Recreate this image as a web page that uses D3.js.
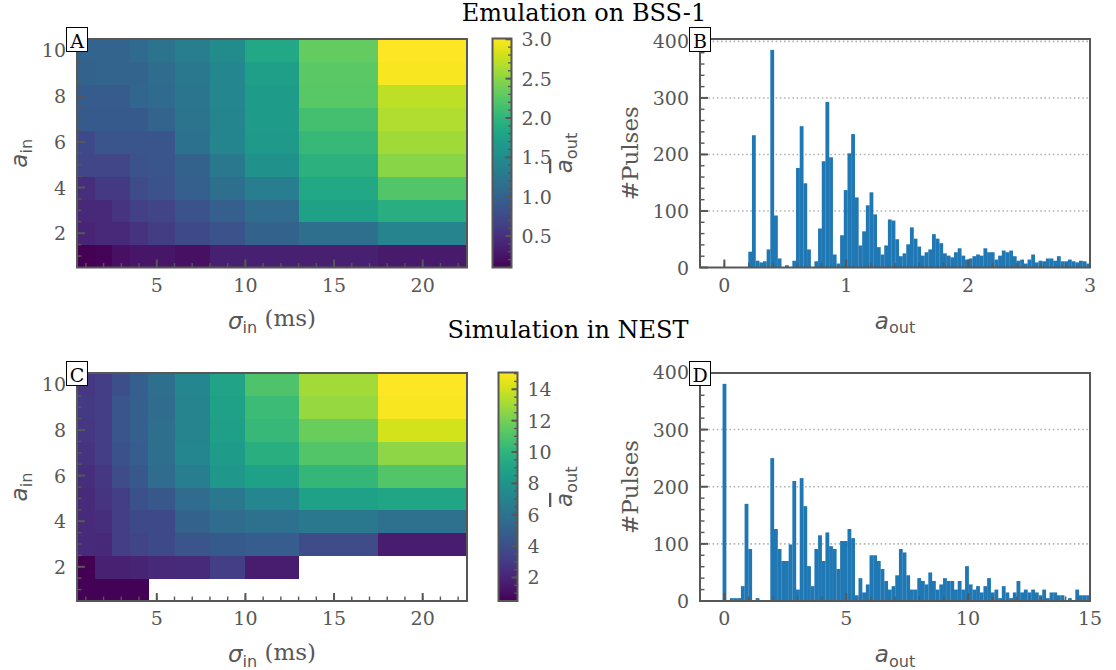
<!DOCTYPE html>
<html>
<head>
<meta charset="utf-8">
<script src="https://cdn.jsdelivr.net/npm/d3@7"></script>
<style>
  body { margin: 0; background: #fff; }
  svg text { font-family: "DejaVu Serif", serif; }
</style>
</head>
<body>
<svg id="fig" width="1116" height="670"></svg>
<script>
// ---- data -------------------------------------------------------------
// Input pulse width sigma_in (ms) and input amplitude a_in of the grid.
const sigmaIn = [1, 2, 3, 4, 5, 7, 9, 11, 15, 20];
const aIn = [1, 2, 3, 4, 5, 6, 7, 8, 9, 10];

// Mean output amplitude, one row per a_in (1..10), one column per sigma_in.
const aOutBSS = [
  [0.10, 0.13, 0.22, 0.27, 0.27, 0.22, 0.36, 0.36, 0.36, 0.30],
  [0.39, 0.42, 0.42, 0.51, 0.62, 0.74, 0.83, 1.00, 1.15, 1.41],
  [0.42, 0.42, 0.54, 0.65, 0.68, 0.83, 0.97, 1.12, 1.76, 1.93],
  [0.48, 0.59, 0.59, 0.77, 0.83, 0.97, 1.15, 1.32, 1.85, 2.22],
  [0.71, 0.71, 0.71, 0.83, 0.86, 1.00, 1.26, 1.56, 1.96, 2.49],
  [0.74, 0.86, 0.86, 0.86, 0.86, 1.18, 1.42, 1.67, 2.05, 2.60],
  [0.91, 0.91, 0.91, 0.91, 1.03, 1.21, 1.42, 1.70, 2.14, 2.66],
  [0.94, 0.94, 0.94, 1.06, 1.09, 1.23, 1.44, 1.70, 2.25, 2.72],
  [1.00, 1.03, 1.03, 1.03, 1.12, 1.26, 1.44, 1.73, 2.27, 2.98],
  [1.03, 1.03, 1.03, 1.09, 1.21, 1.32, 1.50, 1.85, 2.31, 3.01]
];
// null = no output pulse for that input
const aOutNEST = [
  [0.60, 0.60, 0.60, 0.60, null, null, null, null, null, null],
  [0.50, 1.81, 1.81, 1.96, 2.10, 2.25, 3.12, 1.67, null, null],
  [2.25, 2.10, 3.12, 3.41, 3.71, 4.29, 4.58, 4.73, 3.85, 1.67],
  [2.25, 2.39, 3.12, 3.71, 3.71, 5.02, 5.60, 5.89, 6.33, 5.89],
  [2.25, 2.69, 3.12, 4.14, 4.43, 5.60, 6.33, 7.20, 8.80, 9.10],
  [2.39, 2.83, 3.85, 4.43, 5.60, 6.62, 8.22, 8.80, 10.12, 11.14],
  [2.69, 3.12, 4.14, 4.73, 5.75, 7.20, 8.51, 9.68, 11.14, 12.59],
  [2.83, 3.12, 4.29, 4.87, 5.75, 7.06, 8.66, 10.26, 11.72, 14.05],
  [2.98, 3.12, 4.29, 4.87, 5.60, 7.06, 8.80, 10.41, 12.74, 14.95],
  [2.83, 3.12, 4.00, 4.87, 5.75, 7.20, 8.95, 10.99, 13.03, 15.07]
];

// Histograms of single-pulse output amplitudes: 100 equal bins each.
const binsBSS = { lo: -0.015, hi: 3.0 };
const pulsesBSS = [
  0, 0, 0, 0, 0, 0, 0, 28, 234, 12,
  9, 11, 32, 385, 92, 16, 0, 4, 0, 12,
  176, 250, 149, 32, 0, 11, 69, 188, 293, 195,
  23, 7, 57, 137, 202, 236, 124, 39, 64, 110,
  133, 94, 36, 23, 39, 85, 83, 50, 20, 25,
  41, 71, 51, 37, 21, 27, 32, 59, 51, 43,
  25, 21, 18, 27, 34, 21, 14, 16, 20, 23,
  21, 34, 27, 27, 14, 21, 30, 27, 30, 20,
  12, 14, 7, 14, 23, 9, 12, 11, 16, 16,
  12, 20, 11, 11, 14, 11, 9, 12, 11, 7
];
const binsNEST = { lo: -0.075, hi: 15.0 };
const pulsesNEST = [
  380, 0, 5, 5, 5, 26, 170, 91, 0, 5,
  0, 0, 0, 250, 126, 91, 70, 70, 99, 210,
  20, 215, 166, 61, 26, 91, 115, 70, 120, 96,
  91, 56, 105, 105, 126, 110, 10, 40, 15, 29,
  80, 80, 70, 56, 35, 20, 26, 45, 91, 85,
  45, 20, 20, 40, 35, 29, 50, 35, 20, 29,
  40, 35, 35, 20, 35, 20, 61, 29, 20, 26,
  15, 26, 40, 15, 20, 5, 26, 15, 5, 15,
  35, 15, 20, 15, 20, 15, 10, 20, 5, 15,
  15, 10, 10, 0, 5, 0, 20, 10, 10, 10
];

// Tick values
const sigmaTicks = [5, 10, 15, 20];
const aInTicks = [2, 4, 6, 8, 10];
const cbTicksBSS = [0.5, 1.0, 1.5, 2.0, 2.5, 3.0];
const cbTicksNEST = [2, 4, 6, 8, 10, 12, 14];
const pulseTicks = [0, 100, 200, 300, 400];
const aOutTicksBSS = [0, 1, 2, 3];
const aOutTicksNEST = [0, 5, 10, 15];

// ---- drawing ----------------------------------------------------------
const svg = d3.select("#fig");
const defs = svg.append("defs");
const AX = "#575757";      // spines and ticks
const LBL = "#575757";     // tick labels
const TICK_FS = 19;
const LABEL_FS = 23;

function range(a, b, step) {
  const out = [];
  const n = Math.round((b - a) / step);
  for (let i = 0; i <= n; i++) out.push(+(a + i * step).toFixed(6));
  return out;
}

// cell edges half-way between grid points (nearest shading)
function edges(v) {
  const e = [v[0] - (v[1] - v[0]) / 2];
  for (let i = 0; i < v.length - 1; i++) e.push((v[i] + v[i + 1]) / 2);
  e.push(v[v.length - 1] + (v[v.length - 1] - v[v.length - 2]) / 2);
  return e;
}

function tickMarks(g, axis, scale, values, len, width, pos) {
  values.forEach(v => {
    const p = scale(v);
    if (axis === "x") {
      g.append("line").attr("x1", p).attr("x2", p)
        .attr("y1", pos).attr("y2", pos - len)
        .attr("stroke", AX).attr("stroke-width", width);
    } else if (axis === "y") {
      g.append("line").attr("y1", p).attr("y2", p)
        .attr("x1", pos).attr("x2", pos + len)
        .attr("stroke", AX).attr("stroke-width", width);
    } else { // colorbar: ticks inward from the right edge
      g.append("line").attr("y1", p).attr("y2", p)
        .attr("x1", pos).attr("x2", pos - len)
        .attr("stroke", AX).attr("stroke-width", width);
    }
  });
}

function xLabels(g, scale, values, y, fmt) {
  g.selectAll(null).data(values).enter().append("text")
    .attr("x", d => scale(d)).attr("y", y)
    .attr("text-anchor", "middle").attr("dominant-baseline", "hanging")
    .attr("font-size", TICK_FS).attr("fill", LBL)
    .text(fmt || (d => d));
}
function yLabels(g, scale, values, x, anchor, fmt) {
  g.selectAll(null).data(values).enter().append("text")
    .attr("x", x).attr("y", d => scale(d))
    .attr("text-anchor", anchor).attr("dominant-baseline", "central")
    .attr("font-size", TICK_FS).attr("fill", LBL)
    .text(fmt || (d => d));
}

function panelTag(g, x, y, letter) {
  g.append("rect").attr("x", x - 10.5).attr("y", y - 12.5)
    .attr("width", 21).attr("height", 24)
    .attr("fill", "#fff").attr("stroke", "#000").attr("stroke-width", 1);
  g.append("text").attr("x", x).attr("y", y + 0.5)
    .attr("text-anchor", "middle").attr("dominant-baseline", "central")
    .attr("font-size", 19).attr("fill", "#000").text(letter);
}

function frame(g, x0, y0, x1, y1) {
  g.append("rect").attr("x", x0).attr("y", y0)
    .attr("width", x1 - x0).attr("height", y1 - y0)
    .attr("fill", "none").attr("stroke", AX).attr("stroke-width", 2);
}

// label helpers: italic symbol with upright subscript
function symLabel(t, sym, sub, over) {
  const s = t.append("tspan").attr("font-family", "DejaVu Sans")
    .attr("font-style", "italic").text(sym);
  if (over) s.attr("text-decoration", "overline");
  t.append("tspan").attr("font-family", "DejaVu Sans")
    .attr("font-size", "70%").attr("dy", "0.3em").text(sub);
  return t;
}

function heatmap(box, values, cbBox, cbTicks, cbMinor, tag) {
  const g = svg.append("g");
  const x = d3.scaleLinear([0.5, 22.5], [box.x0, box.x1]);
  const y = d3.scaleLinear([0.5, 10.5], [box.y1, box.y0]);
  const flat = values.flat().filter(v => v !== null);
  const ext = d3.extent(flat);
  const color = d3.scaleSequential(d3.interpolateViridis).domain(ext);
  const xe = edges(sigmaIn), ye = edges(aIn);

  const cells = [];
  values.forEach((row, i) => row.forEach((v, j) => {
    if (v !== null) cells.push({ i, j, v });
  }));
  g.selectAll(null).data(cells).enter().append("rect")
    .attr("shape-rendering", "crispEdges")
    .attr("x", d => x(xe[d.j]))
    .attr("y", d => y(ye[d.i + 1]))
    .attr("width", d => x(xe[d.j + 1]) - x(xe[d.j]) + 0.6)
    .attr("height", d => y(ye[d.i]) - y(ye[d.i + 1]) + 0.6)
    .attr("fill", d => color(d.v));

  tickMarks(g, "x", x, range(1, 22, 1), 4.5, 1.4, box.y1);
  tickMarks(g, "x", x, sigmaTicks, 8, 2, box.y1);
  tickMarks(g, "y", y, range(1, 10.5, 0.5), 4.5, 1.4, box.x0);
  tickMarks(g, "y", y, aInTicks, 8, 2, box.x0);
  frame(g, box.x0, box.y0, box.x1, box.y1);
  xLabels(g, x, sigmaTicks, box.y1 + 10);
  yLabels(g, y, aInTicks, box.x0 - 11, "end");

  // colorbar
  const gid = "grad" + tag;
  const grad = defs.append("linearGradient").attr("id", gid)
    .attr("x1", 0).attr("y1", 1).attr("x2", 0).attr("y2", 0);
  d3.range(0, 1.0001, 0.02).forEach(t =>
    grad.append("stop").attr("offset", t).attr("stop-color", d3.interpolateViridis(t)));
  g.append("rect").attr("x", cbBox.x0).attr("y", cbBox.y0)
    .attr("width", cbBox.x1 - cbBox.x0).attr("height", cbBox.y1 - cbBox.y0)
    .attr("fill", `url(#${gid})`);
  const cy = d3.scaleLinear(ext, [cbBox.y1, cbBox.y0]);
  tickMarks(g, "cb", cy, cbMinor.filter(v => v >= ext[0] && v <= ext[1]), 3.5, 1.3, cbBox.x1);
  tickMarks(g, "cb", cy, cbTicks, 6, 2, cbBox.x1);
  frame(g, cbBox.x0, cbBox.y0, cbBox.x1, cbBox.y1);
  yLabels(g, cy, cbTicks, cbBox.x1 + 10, "start",
    d => (tag === "A" ? d.toFixed(1) : d));

  // axis labels
  const xl = g.append("text").attr("x", 272).attr("y", box.y1 + 61)
    .attr("text-anchor", "middle").attr("font-size", LABEL_FS).attr("fill", LBL);
  symLabel(xl, "σ", "in");
  xl.append("tspan").attr("dy", "-0.3em").text(" (ms)");

  const yl = g.append("text")
    .attr("transform", `translate(27,${(box.y0 + box.y1) / 2}) rotate(-90)`)
    .attr("text-anchor", "middle").attr("font-size", LABEL_FS).attr("fill", LBL);
  symLabel(yl, "a", "in");

  const cl = g.append("text")
    .attr("transform", `translate(572,${(cbBox.y0 + cbBox.y1) / 2}) rotate(-90)`)
    .attr("text-anchor", "middle").attr("font-size", LABEL_FS).attr("fill", LBL);
  symLabel(cl, "a", "out", true);

  panelTag(g, box.x0, box.y0 + 1, tag);
}

function histogram(box, counts, bins, xDomain, xTicks, xMinorStep, tag) {
  const g = svg.append("g");
  const x = d3.scaleLinear(xDomain, [box.x0, box.x1]);
  const ymax = d3.max(counts) * 1.05;
  const y = d3.scaleLinear([0, ymax], [box.y1, box.y0]);
  const w = (bins.hi - bins.lo) / counts.length;

  // dotted horizontal grid
  pulseTicks.filter(v => v > 0 && v <= ymax).forEach(v => {
    g.append("line").attr("x1", box.x0).attr("x2", box.x1)
      .attr("y1", y(v)).attr("y2", y(v))
      .attr("stroke", "#b4b4b4").attr("stroke-width", 1.6)
      .attr("stroke-dasharray", "1.6,2.6");
  });

  g.selectAll(null).data(counts).enter().append("rect")
    .attr("x", (d, k) => x(bins.lo + k * w))
    .attr("width", (d, k) => x(bins.lo + (k + 1) * w) - x(bins.lo + k * w) + 0.15)
    .attr("y", d => y(d))
    .attr("height", d => y(0) - y(d))
    .attr("fill", "#1f77b4");

  tickMarks(g, "x", x, range(xDomain[0], xDomain[1], xMinorStep), 4.5, 1.4, box.y1);
  tickMarks(g, "x", x, xTicks, 8, 2, box.y1);
  tickMarks(g, "y", y, range(20, ymax, 20), 4.5, 1.4, box.x0);
  tickMarks(g, "y", y, pulseTicks, 8, 2, box.x0);
  frame(g, box.x0, box.y0, box.x1, box.y1);
  xLabels(g, x, xTicks, box.y1 + 10);
  yLabels(g, y, pulseTicks, box.x0 - 11, "end");

  const xl = g.append("text").attr("x", (box.x0 + box.x1) / 2).attr("y", box.y1 + 61)
    .attr("text-anchor", "middle").attr("font-size", LABEL_FS).attr("fill", LBL);
  symLabel(xl, "a", "out");

  g.append("text")
    .attr("transform", `translate(638,${(box.y0 + box.y1) / 2}) rotate(-90)`)
    .attr("text-anchor", "middle").attr("font-size", LABEL_FS).attr("fill", LBL)
    .attr("font-family", "DejaVu Sans")
    .text("#Pulses");

  panelTag(g, box.x0, box.y0 + 1, tag);
}

const topRow = { y0: 39, y1: 267.5 };
const botRow = { y0: 373, y1: 601 };

heatmap({ x0: 77, x1: 467, ...topRow }, aOutBSS,
  { x0: 492.5, x1: 511.5, y0: 38.5, y1: 267.5 }, cbTicksBSS, range(0.1, 3.0, 0.1), "A");
histogram({ x0: 700, x1: 1090, ...topRow }, pulsesBSS, binsBSS, [-0.2, 3],
  aOutTicksBSS, 0.2, "B");
heatmap({ x0: 77, x1: 467, ...botRow }, aOutNEST,
  { x0: 498.5, x1: 517.5, y0: 372.5, y1: 601 }, cbTicksNEST, range(0.5, 15, 0.5), "C");
histogram({ x0: 700, x1: 1090, ...botRow }, pulsesNEST, binsNEST, [-1, 15],
  aOutTicksNEST, 1, "D");

// row titles
svg.append("text").attr("x", 584).attr("y", 21).attr("text-anchor", "middle")
  .attr("font-size", 24).attr("fill", "#000").text("Emulation on BSS-1");
svg.append("text").attr("x", 568).attr("y", 338).attr("text-anchor", "middle")
  .attr("font-size", 24).attr("fill", "#000").text("Simulation in NEST");
</script>
</body>
</html>
